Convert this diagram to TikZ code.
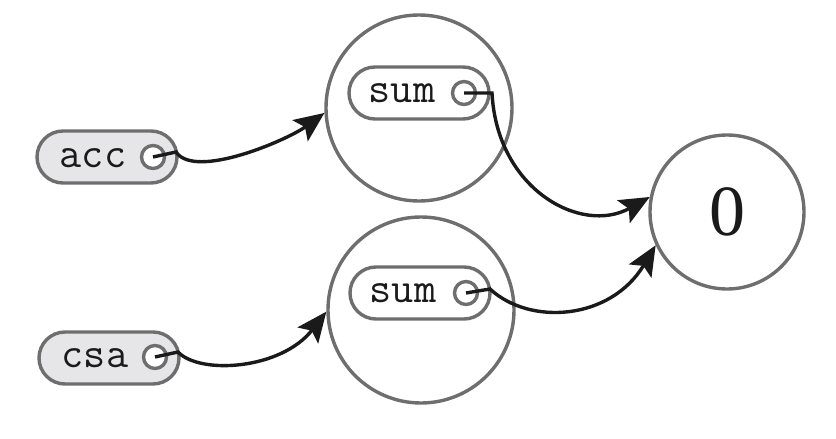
\documentclass[tikz,border=0pt]{standalone}
\usepackage{fontspec}
\usetikzlibrary{arrows.meta,shapes.misc}
\newfontfamily\zerofont{Liberation Serif}
\definecolor{edgegray}{HTML}{6E6E6E}
\definecolor{pillfill}{HTML}{E6E6E8}
\definecolor{ink}{HTML}{1A1A1A}
\begin{document}
\begin{tikzpicture}[x=1pt,y=-1pt,
  bigcirc/.style={circle,draw=edgegray,line width=3.4pt,fill=white,inner sep=0pt},
  pill/.style={rounded rectangle,draw=edgegray,line width=3.4pt,minimum width=#1,minimum height=52pt,inner sep=0pt},
  pill/.default=140pt,
  lbl/.style={font=\fontsize{43}{48}\selectfont\ttfamily,text=ink,inner sep=0pt},
  dot/.style={circle,draw=edgegray,line width=3.4pt,fill=white,minimum size=23pt,inner sep=0pt},
  conn/.style={draw=ink,line width=3.4pt,-{Stealth[length=30pt,width=26pt,inset=6pt]}}
]
\useasboundingbox (0,0) rectangle (836,439);
% big circles
\node[bigcirc,minimum size=186pt] (c1) at (419,108) {};
\node[bigcirc,minimum size=186pt] (c2) at (421,310) {};
\node[bigcirc,minimum size=154pt,text=ink,font=\zerofont\fontsize{72}{80}\selectfont] (zero) at (727,212) {0};
% outer pills
\node[pill,fill=pillfill] (acc) at (107,157) {};
\node[lbl] (acct) at (93,158) {acc};
\node[dot] (accd) at (153,157) {};
\node[pill,fill=pillfill] (csa) at (109,358) {};
\node[lbl] (csat) at (95,358) {csa};
\node[dot] (csad) at (155,357) {};
% inner pills
\node[pill,fill=white] (s1) at (419,93) {};
\node[lbl] (s1t) at (402,93) {sum};
\node[dot] (s1d) at (464,93) {};
\node[pill,fill=white] (s2) at (420,293) {};
\node[lbl] (s2t) at (403,293) {sum};
\node[dot] (s2d) at (466,293) {};
% connectors
\draw[conn] (accd.center) -- ++(23,-5) .. controls +(19,28) and +(-37,27) .. (c1.183);
\draw[conn] (csad.center) -- ++(23,-5) .. controls +(22,23) and +(-45,58) .. (c2.181);
\draw[conn] (s1d.center) -- ++(28,0) .. controls +(5,97) and +(-68,38) .. (zero.169);
\draw[conn] (s2d.center) -- ++(24,-4) .. controls +(40,37) and +(-45,75) .. (zero.205);
\end{tikzpicture}
\end{document}
